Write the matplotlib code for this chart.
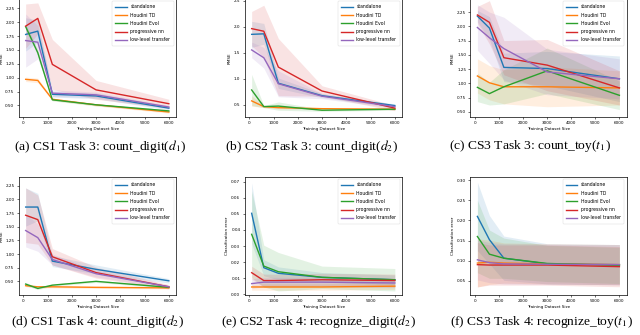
import numpy as np
import matplotlib
matplotlib.use("Agg")
import matplotlib.pyplot as plt

plt.rcParams["mathtext.fontset"] = "stix"

sizes = [100, 600, 1200, 3000, 6000]
methods = ["standalone", "Houdini TD", "Houdini Evol", "progressive nn", "low-level transfer"]
colors = ["#1f77b4", "#ff7f0e", "#2ca02c", "#d62728", "#9467bd"]

# (a) CS1 Task 3 - RMSE
a_mean = [[1.78, 1.84, 0.70, 0.67, 0.45],
          [0.97, 0.95, 0.61, 0.51, 0.38],
          [1.92, 1.45, 0.60, 0.51, 0.40],
          [1.93, 2.07, 1.24, 0.78, 0.53],
          [1.67, 1.64, 0.72, 0.69, 0.47]]
a_std = [[0.30, 0.20, 0.05, 0.05, 0.03],
         [0.04, 0.04, 0.02, 0.02, 0.02],
         [0.05, 0.05, 0.02, 0.02, 0.02],
         [0.40, 0.28, 0.45, 0.17, 0.08],
         [0.48, 0.30, 0.06, 0.05, 0.03]]

# (b) CS2 Task 3 - RMSE
b_mean = [[1.85, 1.86, 0.91, 0.67, 0.48],
          [0.57, 0.46, 0.44, 0.42, 0.41],
          [0.78, 0.46, 0.47, 0.39, 0.41],
          [1.96, 1.91, 1.22, 0.76, 0.43],
          [1.55, 1.40, 0.90, 0.66, 0.46]]
b_std = [[0.25, 0.20, 0.10, 0.04, 0.03],
         [0.10, 0.02, 0.02, 0.01, 0.01],
         [0.30, 0.02, 0.08, 0.02, 0.02],
         [0.33, 0.50, 0.55, 0.10, 0.05],
         [0.15, 0.20, 0.25, 0.05, 0.03]]

# (c) CS3 Task 3 - RMSE
c_mean = [[2.18, 1.97, 1.28, 1.26, 1.08],
          [1.13, 1.01, 0.94, 0.94, 0.92],
          [0.93, 0.82, 0.94, 1.22, 0.79],
          [2.20, 2.07, 1.45, 1.32, 0.92],
          [1.98, 1.80, 1.61, 1.20, 1.08]]
c_std = [[0.10, 0.20, 0.25, 0.30, 0.40],
         [0.30, 0.30, 0.30, 0.35, 0.30],
         [0.25, 0.20, 0.30, 0.40, 0.25],
         [0.15, 0.38, 0.30, 0.45, 0.30],
         [0.40, 0.45, 0.55, 0.40, 0.35]]

# (d) CS1 Task 4 - RMSE
d_mean = [[1.86, 1.86, 0.87, 0.72, 0.51],
          [0.42, 0.40, 0.40, 0.39, 0.38],
          [0.45, 0.37, 0.43, 0.50, 0.39],
          [1.71, 1.63, 0.95, 0.66, 0.40],
          [1.43, 1.30, 0.90, 0.64, 0.40]]
d_std = [[0.35, 0.25, 0.10, 0.08, 0.04],
         [0.02, 0.02, 0.02, 0.02, 0.02],
         [0.03, 0.02, 0.02, 0.02, 0.02],
         [0.50, 0.45, 0.15, 0.10, 0.04],
         [0.30, 0.25, 0.10, 0.06, 0.03]]

# (e) CS2 Task 4 - classification error
e_mean = [[0.0504, 0.0165, 0.0130, 0.0105, 0.0090],
          [0.0045, 0.0045, 0.0045, 0.0045, 0.0050],
          [0.0373, 0.0175, 0.0140, 0.0105, 0.0090],
          [0.0134, 0.0085, 0.0085, 0.0090, 0.0085],
          [0.0066, 0.0075, 0.0075, 0.0075, 0.0070]]
e_std = [[0.019, 0.005, 0.004, 0.003, 0.003],
         [0.002, 0.002, 0.002, 0.002, 0.002],
         [0.027, 0.013, 0.012, 0.007, 0.007],
         [0.004, 0.004, 0.004, 0.004, 0.004],
         [0.003, 0.003, 0.003, 0.003, 0.003]]

# (f) CS3 Task 4 - classification error
f_mean = [[0.210, 0.152, 0.106, 0.092, 0.090],
          [0.094, 0.096, 0.094, 0.092, 0.090],
          [0.160, 0.116, 0.106, 0.093, 0.088],
          [0.090, 0.089, 0.089, 0.089, 0.085],
          [0.102, 0.095, 0.092, 0.091, 0.090]]
f_std = [[0.085, 0.060, 0.055, 0.050, 0.050],
         [0.060, 0.055, 0.050, 0.050, 0.050],
         [0.090, 0.060, 0.050, 0.045, 0.045],
         [0.055, 0.050, 0.050, 0.050, 0.050],
         [0.050, 0.050, 0.050, 0.050, 0.050]]

captions = ["(a) CS1 Task 3: count_digit($d_1$)",
            "(b) CS2 Task 3: count_digit($d_2$)",
            "(c) CS3 Task 3: count_toy($t_1$)",
            "(d) CS1 Task 4: count_digit($d_2$)",
            "(e) CS2 Task 4: recognize_digit($d_2$)",
            "(f) CS3 Task 4: recognize_toy($t_1$)"]
ylabels = ["RMSE", "RMSE", "RMSE", "RMSE", "Classification error", "Classification error"]
ylims = [(0.29, 2.42), (0.26, 2.53), (0.41, 2.48), (0.25, 2.41), (-0.0005, 0.073), (0.0145, 0.308)]
yticks = [np.arange(0.5, 2.3, 0.25), np.arange(0.5, 2.6, 0.5), np.arange(0.5, 2.3, 0.25),
          np.arange(0.5, 2.3, 0.25), np.arange(0.0, 0.071, 0.01), np.arange(0.05, 0.31, 0.05)]
means = [a_mean, b_mean, c_mean, d_mean, e_mean, f_mean]
stds = [a_std, b_std, c_std, d_std, e_std, f_std]

fig = plt.figure(figsize=(6.4, 3.35), dpi=100)
W, H = 640.0, 335.0
# axes boxes in pixels: left, right, top, bottom
boxes = [(18.5, 176, -1, 117), (244.5, 402, -1, 117), (470.3, 626.5, -1, 117),
         (18.5, 176, 177, 295), (244.5, 402, 177, 295), (470.3, 626.5, 177, 295)]
cap_pos = [(100, 146), (312, 146), (530, 146), (98, 322), (318, 322), (541, 322)]

sz = 3
for i in range(6):
    l, r, t, b = boxes[i]
    ax = fig.add_axes([l / W, 1 - b / H, (r - l) / W, (b - t) / H])
    x = np.array(sizes)
    for m in range(5):
        mu = np.array(means[i][m])
        sd = np.array(stds[i][m])
        ax.plot(x, mu, color=colors[m], lw=1.0, label=methods[m])
        ax.fill_between(x, mu - sd, mu + sd, color=colors[m], alpha=0.13, lw=0)
    ax.set_xlim(-195, 6295)
    ax.set_ylim(*ylims[i])
    ax.set_xticks([0, 1000, 2000, 3000, 4000, 5000, 6000])
    ax.set_yticks(yticks[i])
    if i in (4, 5):
        ax.set_yticklabels(["%.2f" % v for v in yticks[i]])
    ax.tick_params(labelsize=sz, length=1.5, width=0.4, pad=1.5)
    for s in ax.spines.values():
        s.set_linewidth(0.5)
    ax.set_xlabel("Training Dataset Size", fontsize=sz, labelpad=1)
    ax.set_ylabel(ylabels[i], fontsize=sz, labelpad=1.5)
    leg = ax.legend(loc="upper right", fontsize=3.3, handlelength=2.5, borderpad=0.7,
                    labelspacing=0.7, framealpha=0.8)
    leg.get_frame().set_linewidth(0.3)
    cx, cy = cap_pos[i]
    fig.text(cx / W, 1 - cy / H, captions[i], ha="center", va="center",
             fontsize=9.7, family="Liberation Serif")

plt.savefig("out.png", dpi=100)
